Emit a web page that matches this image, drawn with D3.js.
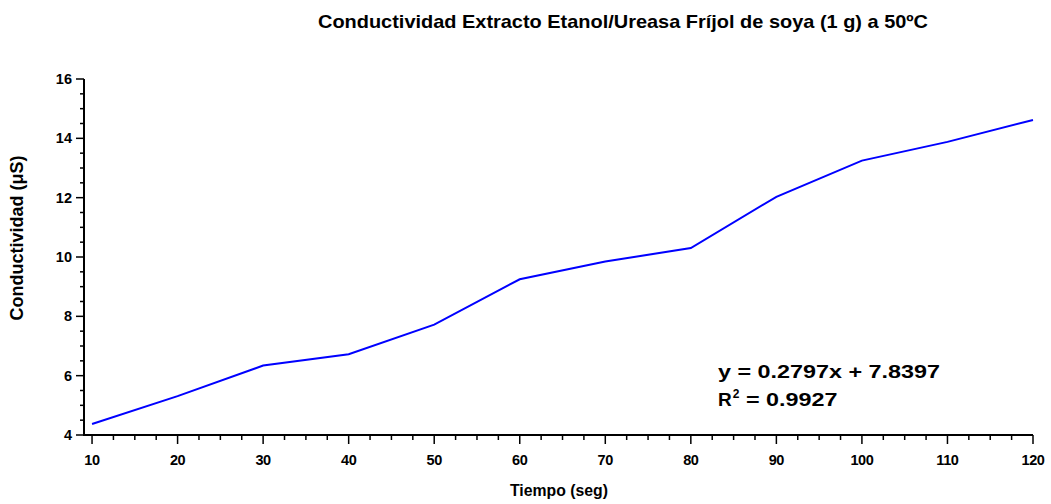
<!DOCTYPE html>
<html>
<head>
<meta charset="utf-8">
<script src="https://cdn.jsdelivr.net/npm/d3@7"></script>
<style>
  body { margin: 0; background: #fff; }
  text { font-family: "Liberation Sans", Arial, sans-serif; font-weight: bold; fill: #000; }
</style>
</head>
<body>
<script>
// data
var tiempo = [10, 20, 30, 40, 50, 60, 70, 80, 90, 100, 110, 120];
var conductividad = [4.37, 5.31, 6.34, 6.72, 7.72, 9.25, 9.85, 10.30, 12.03, 13.25, 13.88, 14.62];
var xTicks = [10, 20, 30, 40, 50, 60, 70, 80, 90, 100, 110, 120];
var yTicks = [4, 6, 8, 10, 12, 14, 16];
var ecuacion = "y = 0.2797x + 7.8397";
var r2 = "= 0.9927";

var width = 1051, height = 504;

var svg = d3.select("body").append("svg")
  .attr("width", width)
  .attr("height", height);

var x = d3.scaleLinear().domain([9.06, 120]).range([84, 1033]);
var y = d3.scaleLinear().domain([4, 16]).range([435, 79]);

// x axis, ticks pointing down
var xAxis = svg.append("g").attr("transform", "translate(0,435)");
xAxis.append("line")
  .attr("x1", x.range()[0]).attr("x2", x.range()[1])
  .attr("stroke", "#000").attr("stroke-width", 2);
xAxis.selectAll(".minor")
  .data(d3.range(12.5, 120, 2.5).filter(function(d) { return d % 10 != 0; }))
  .enter().append("line")
  .attr("x1", x).attr("x2", x).attr("y1", 0).attr("y2", 5)
  .attr("stroke", "#000").attr("stroke-width", 1.5);
xAxis.selectAll(".major").data(xTicks).enter().append("line")
  .attr("x1", x).attr("x2", x).attr("y1", 0).attr("y2", 9)
  .attr("stroke", "#000").attr("stroke-width", 1.5);
xAxis.selectAll(".lbl").data(xTicks).enter().append("text")
  .attr("x", x).attr("y", 30)
  .attr("text-anchor", "middle")
  .style("font-size", "14.5px")
  .style("letter-spacing", "-0.4px")
  .text(function(d) { return d; });

// y axis, ticks pointing left
var yAxis = svg.append("g").attr("transform", "translate(84,0)");
yAxis.append("line")
  .attr("y1", y(4) + 1).attr("y2", y(16))
  .attr("stroke", "#000").attr("stroke-width", 2);
yAxis.selectAll(".minor")
  .data(d3.range(4.5, 16, 0.5).filter(function(d) { return d % 2 != 0; }))
  .enter().append("line")
  .attr("y1", y).attr("y2", y).attr("x1", 0).attr("x2", -4)
  .attr("stroke", "#000").attr("stroke-width", 1.5);
yAxis.selectAll(".major").data(yTicks).enter().append("line")
  .attr("y1", y).attr("y2", y).attr("x1", 0).attr("x2", -8)
  .attr("stroke", "#000").attr("stroke-width", 1.5);
yAxis.selectAll(".lbl").data(yTicks).enter().append("text")
  .attr("x", -12).attr("y", function(d) { return y(d) + 5; })
  .attr("text-anchor", "end")
  .style("font-size", "14.5px")
  .text(function(d) { return d; });

// the curve
var line = d3.line()
  .x(function(d, i) { return x(tiempo[i]); })
  .y(function(d) { return y(d); });

svg.append("path")
  .datum(conductividad)
  .attr("d", line)
  .attr("fill", "none")
  .attr("stroke", "#0000ff")
  .attr("stroke-width", 2);

// titles
svg.append("text")
  .attr("x", 318).attr("y", 28)
  .attr("textLength", 610).attr("lengthAdjust", "spacingAndGlyphs")
  .style("font-size", "19px")
  .text("Conductividad Extracto Etanol/Ureasa Fríjol de soya (1 g) a 50ºC");

svg.append("text")
  .attr("x", 510).attr("y", 496)
  .attr("textLength", 98).attr("lengthAdjust", "spacingAndGlyphs")
  .style("font-size", "17px")
  .text("Tiempo (seg)");

svg.append("text")
  .attr("transform", "translate(23,238) rotate(-90)")
  .attr("text-anchor", "middle")
  .style("font-size", "18px")
  .text("Conductividad (μS)");

// regression text
svg.append("text")
  .attr("x", 718).attr("y", 378)
  .attr("textLength", 222).attr("lengthAdjust", "spacingAndGlyphs")
  .style("font-size", "19px")
  .text(ecuacion);

var r = svg.append("text")
  .attr("x", 718).attr("y", 406)
  .style("font-size", "19px");
r.append("tspan").text("R");
r.append("tspan").attr("dy", -8).attr("dx", 1).style("font-size", "12px").text("2");
r.append("tspan").attr("dy", 8).attr("textLength", 98).attr("lengthAdjust", "spacingAndGlyphs")
  .text(" " + r2);
</script>
</body>
</html>
